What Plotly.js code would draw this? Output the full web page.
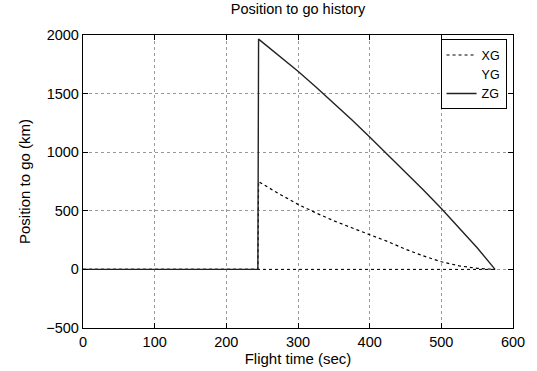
<!DOCTYPE html>
<html>
<head>
<meta charset="utf-8">
<script src="https://cdn.plot.ly/plotly-3.0.1.min.js"></script>
<style>html,body{margin:0;padding:0;background:#fff;}#chart{width:537px;height:371px;}</style>
</head>
<body>
<div id="chart"></div>
<script>
const flightTime = [0, 244, 245, 250, 275, 300, 325, 350, 375, 400, 425, 450, 475, 500, 525, 550, 575];
const xgValues   = [0, 0, 750, 730, 640, 555, 482, 415, 355, 298, 238, 172, 115, 65, 30, 9, 0];
const ygValues   = [0, 0, 0, 0, 0, 0, 0, 0, 0, 0, 0, 0, 0, 0, 0, 0, 0];
const zgValues   = [0, 0, 1965, 1940, 1815, 1690, 1557, 1420, 1277, 1130, 982, 830, 677, 520, 357, 185, 0];
const xTicks = [0, 100, 200, 300, 400, 500, 600];
const yTicks = [-500, 0, 500, 1000, 1500, 2000];

const font = {family: 'Liberation Sans, Arial, sans-serif', size: 14.5, color: '#000'};
const traces = [
  {x: flightTime, y: xgValues, name: 'XG', mode: 'lines', legendrank: 1, line: {color: '#000', width: 1.2, dash: 'dot'}},
  {x: flightTime, y: ygValues, name: 'YG', mode: 'lines', showlegend: false, line: {color: '#000', width: 1, dash: 'dot'}},
  {x: [null], y: [null], name: 'YG', mode: 'lines', legendrank: 2, hoverinfo: 'skip', line: {color: 'rgba(0,0,0,0)', width: 0}},
  {x: flightTime, y: zgValues, name: 'ZG', mode: 'lines', legendrank: 3, line: {color: '#222', width: 1.4}}
];
const axisCommon = {
  showline: true, mirror: 'ticks', linecolor: '#000', linewidth: 1.2,
  ticks: 'inside', ticklen: 5, tickcolor: '#000',
  showgrid: true, gridcolor: '#999', griddash: 'dot', gridwidth: 1,
  zeroline: false, tickfont: font
};
const layout = {
  width: 537, height: 371,
  margin: {l: 83, r: 24, t: 35, b: 43},
  paper_bgcolor: '#fff', plot_bgcolor: '#fff',
  font: font,
  title: {text: 'Position to go history', font: {family: font.family, size: 14.5}, x: 0.555, xanchor: 'center', y: 0.99, yanchor: 'top'},
  xaxis: Object.assign({}, axisCommon, {range: [0, 600], tickvals: xTicks, title: {text: 'Flight time (sec)', font: {family: font.family, size: 15}, standoff: 4}}),
  yaxis: Object.assign({}, axisCommon, {range: [-500, 2000], tickvals: yTicks, title: {text: 'Position to go (km)', font: {family: font.family, size: 15}, standoff: 12}}),
  showlegend: true,
  legend: {x: 0.985, xanchor: 'right', y: 0.985, yanchor: 'top', bgcolor: '#fff', bordercolor: '#000', borderwidth: 1, font: {family: font.family, size: 12.5}, tracegroupgap: 0, entrywidth: 30, traceorder: 'normal'}
};
Plotly.newPlot('chart', traces, layout, {displayModeBar: false, staticPlot: true});
</script>
</body>
</html>
